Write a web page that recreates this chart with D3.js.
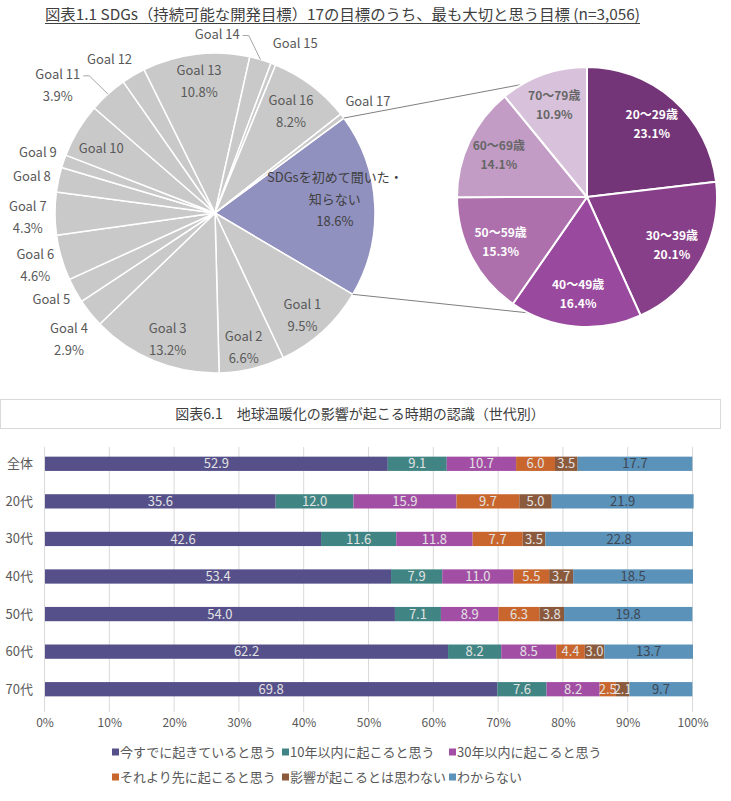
<!DOCTYPE html>
<html><head><meta charset="utf-8">
<script src="https://cdn.jsdelivr.net/npm/d3@7/dist/d3.min.js"></script>
<style>body{margin:0;background:#fff}svg{display:block}</style>
</head><body><svg id="c" width="731" height="801"></svg>
<script>
// ---------- data ----------
const goalLabels = ["SDGsを初めて聞いた・|知らない","Goal 1","Goal 2","Goal 3","Goal 4","Goal 5","Goal 6","Goal 7","Goal 8","Goal 9","Goal 10","Goal 11","Goal 12","Goal 13","Goal 14","Goal 15","Goal 16","Goal 17"];
const goalValues = [18.6, 9.5, 6.6, 13.2, 2.9, 2.5, 4.6, 4.3, 2.5, 1.3, 5.5, 3.9, 2.4, 10.8, 2.2, 0.5, 8.2, 0.5];
const goalShowPct = [true,true,true,true,true,false,true,true,false,false,false,true,false,true,false,false,true,false];
const ageLabels = ["20～29歳","30～39歳","40～49歳","50～59歳","60～69歳","70～79歳"];
const ageValues = [23.1, 20.1, 16.4, 15.3, 14.1, 10.9];

const generations = ["全体","20代","30代","40代","50代","60代","70代"];
const seriesNames = ["今すでに起きていると思う","10年以内に起こると思う","30年以内に起こると思う","それより先に起こると思う","影響が起こるとは思わない","わからない"];
const sNow   = [52.9, 35.6, 42.6, 53.4, 54.0, 62.2, 69.8];
const s10    = [9.1, 12.0, 11.6, 7.9, 7.1, 8.2, 7.6];
const s30    = [10.7, 15.9, 11.8, 11.0, 8.9, 8.5, 8.2];
const sLater = [6.0, 9.7, 7.7, 5.5, 6.3, 4.4, 2.5];
const sNever = [3.5, 5.0, 3.5, 3.7, 3.8, 3.0, 2.1];
const sDK    = [17.7, 21.9, 22.8, 18.5, 19.8, 13.7, 9.7];
const xTicks = [0,10,20,30,40,50,60,70,80,90,100];

// ---------- styles ----------
const FONT = "'Noto Sans CJK JP','Noto Sans',sans-serif";
const NARROW = "'Liberation Sans Narrow','Noto Sans CJK JP',sans-serif";
const TXT = "#595959";
const seriesColors = ["#55508a","#408583","#a34ea5","#c8662d","#8b5a3c","#5b92b9"];
const seriesText = ["#e2e2e2","#e2e2e2","#e2e2e2","#e2e2e2","#e2e2e2","#3e4756"];
const ageColors = ["#733577","#873f89","#9a4a9e","#ad70ad","#c39cc6","#d8c1da"];
const ageText = ["#ffffff","#ffffff","#ffffff","#ffffff","#666666","#666666"];

const svg = d3.select("#c");
const deg = Math.PI/180;

// ---------- title 1 ----------
svg.append("text").attr("x",45).attr("y",20)
  .attr("font-family",FONT).attr("font-size",15).attr("fill","#404040")
  .attr("textLength",595).attr("lengthAdjust","spacingAndGlyphs")
  .text("図表1.1 SDGs（持続可能な開発目標）17の目標のうち、最も大切と思う目標 (n=3,056)");
svg.append("line").attr("x1",45).attr("x2",640).attr("y1",23.5).attr("y2",23.5)
  .attr("stroke","#404040").attr("stroke-width",1);

// ---------- main pie ----------
const cx = 215, cy = 213, R = 160;
const startA = 53.6*deg;
const pie = d3.pie().sort(null).value(d=>d).startAngle(startA).endAngle(startA+2*Math.PI);
const arcs = pie(goalValues);
const arc = d3.arc().innerRadius(0).outerRadius(R);
const g1 = svg.append("g").attr("transform",`translate(${cx},${cy})`);
g1.selectAll("path").data(arcs).enter().append("path")
  .attr("d",arc)
  .attr("fill",(d,i)=> i===0 ? "#9191bf" : "#c9c9c9")
  .attr("stroke","#fff").attr("stroke-width",1.5).attr("stroke-linejoin","round");

const insideIdx = new Set([0,1,2,3,10,13,16]);
const labelK = i => i===0 ? 0.75 : (insideIdx.has(i) ? 0.83 : 1.17);
const labelShift = {0:[0,-7], 1:[-2,4], 2:[-2,5], 3:[3,4], 4:[0,9], 5:[0,-4], 7:[0,4], 8:[0,2],
                    10:[0,4], 11:[-32,12], 12:[-10,7], 14:[-51,1], 15:[12,5], 16:[-4,4], 17:[4,2]};
const leaderIdx = new Set([11,14]);

arcs.forEach((d,i)=>{
  const k = labelK(i);
  const c = d3.arc().innerRadius(R*k).outerRadius(R*k).centroid(d);
  const sh = labelShift[i] || [0,0];
  const x = c[0]+sh[0], y = c[1]+sh[1];
  const lines = goalLabels[i].split("|");
  if (goalShowPct[i]) lines.push(goalValues[i].toFixed(1)+"%");
  const n = lines.length;
  const t = g1.append("text").attr("font-family",FONT).attr("font-size",13)
    .attr("fill", i===0 ? "#404040" : TXT).attr("text-anchor","middle");
  lines.forEach((ln,j)=>{
    t.append("tspan").attr("x",x).attr("y",y + (j-(n-1)/2)*22).attr("dy","0.35em").text(ln);
  });
  if (leaderIdx.has(i)) {
    const bb = t.node().getBBox();
    const lx = bb.x + bb.width + 3;
    const ly = y - (n-1)/2*22 + 1;
    const edge = d3.arc().innerRadius(R).outerRadius(R).centroid(d);
    g1.append("path").attr("d",`M${lx},${ly}H${lx+6}L${edge[0]},${edge[1]}`)
      .attr("fill","none").attr("stroke","#a6a6a6").attr("stroke-width",1);
  }
});

// ---------- secondary pie ----------
const cx2 = 587, cy2 = 197, R2 = 130;
const pie2 = d3.pie().sort(null).value(d=>d);
const arcs2 = pie2(ageValues);
const arc2 = d3.arc().innerRadius(0).outerRadius(R2);

// connector lines
const sdg = arcs[0];
const p1 = [cx + R*Math.sin(sdg.startAngle), cy - R*Math.cos(sdg.startAngle)];
const p2 = [cx + R*Math.sin(sdg.endAngle), cy - R*Math.cos(sdg.endAngle)];
const q1 = [cx2 + R2*Math.sin(330*deg), cy2 - R2*Math.cos(330*deg)];
const q2 = [cx2 + R2*Math.sin(207*deg), cy2 - R2*Math.cos(207*deg)];
svg.append("line").attr("x1",p1[0]).attr("y1",p1[1]).attr("x2",q1[0]).attr("y2",q1[1]).attr("stroke","#7f7f7f").attr("stroke-width",1);
svg.append("line").attr("x1",p2[0]).attr("y1",p2[1]).attr("x2",q2[0]).attr("y2",q2[1]).attr("stroke","#7f7f7f").attr("stroke-width",1);

const g2 = svg.append("g").attr("transform",`translate(${cx2},${cy2})`);
g2.selectAll("path").data(arcs2).enter().append("path")
  .attr("d",arc2).attr("fill",(d,i)=>ageColors[i])
  .attr("stroke","#fff").attr("stroke-width",2).attr("stroke-linejoin","round");
const lab2 = d3.arc().innerRadius(R2*0.75).outerRadius(R2*0.75);
arcs2.forEach((d,i)=>{
  const c = lab2.centroid(d);
  const t = g2.append("text").attr("font-family",FONT).attr("font-size",12).attr("font-weight","bold")
    .attr("fill",ageText[i]).attr("text-anchor","middle");
  t.append("tspan").attr("x",c[0]).attr("y",c[1]-9.5).attr("dy","0.35em").text(ageLabels[i]);
  t.append("tspan").attr("x",c[0]).attr("y",c[1]+9.5).attr("dy","0.35em").text(ageValues[i].toFixed(1)+"%");
});

// ---------- bar chart ----------
svg.append("rect").attr("x",0.5).attr("y",399.5).attr("width",720).attr("height",29)
  .attr("fill","#fff").attr("stroke","#d9d9d9");
svg.append("text").attr("x",360).attr("y",414).attr("dy","0.35em").attr("text-anchor","middle")
  .attr("font-family",FONT).attr("font-size",14).attr("fill","#404040")
  .text("図表6.1　地球温暖化の影響が起こる時期の認識（世代別）");

const x = d3.scaleLinear().domain([0,100]).range([45,693]);
const y = d3.scaleBand().domain(generations).range([445,708]).paddingInner(0.62).paddingOuter(0.31);

svg.append("g").selectAll("line").data(xTicks).enter().append("line")
  .attr("x1",d=>x(d)-0.5).attr("x2",d=>x(d)-0.5).attr("y1",447).attr("y2",712)
  .attr("stroke","#d9d9d9").attr("stroke-width",1);
svg.append("g").selectAll("text").data(xTicks).enter().append("text")
  .attr("x",d=>x(d)).attr("y",723).attr("dy","0.35em").attr("text-anchor","middle")
  .attr("font-family",FONT).attr("font-size",12).attr("fill",TXT).text(d=>d+"%");

svg.append("g").selectAll("text").data(generations).enter().append("text")
  .attr("x",33).attr("y",d=>y(d)+y.bandwidth()/2).attr("dy","0.35em").attr("text-anchor","end")
  .attr("font-family",FONT).attr("font-size",13).attr("fill",TXT).text(d=>d);

const seriesArrays = [sNow, s10, s30, sLater, sNever, sDK];
const rows = generations.map((g,i)=>{ const o={gen:g}; seriesNames.forEach((s,j)=>o[s]=seriesArrays[j][i]); return o; });
const stack = d3.stack().keys(seriesNames)(rows);
stack.forEach((layer,j)=>{
  const gl = svg.append("g");
  gl.selectAll("rect").data(layer).enter().append("rect")
    .attr("x",d=>x(d[0])).attr("width",d=>x(d[1])-x(d[0]))
    .attr("y",d=>y(d.data.gen)).attr("height",y.bandwidth())
    .attr("fill",seriesColors[j]);
  gl.selectAll("text").data(layer).enter().append("text")
    .attr("x",d=>(x(d[0])+x(d[1]))/2).attr("y",d=>y(d.data.gen)+y.bandwidth()/2).attr("dy","0.36em")
    .attr("text-anchor","middle").attr("font-family",NARROW).attr("font-size",13)
    .attr("fill",seriesText[j]).text(d=>(d[1]-d[0]).toFixed(1));
});

// legend
const legX = [112, 282, 449];
const legY = [752, 777];
seriesNames.forEach((s,j)=>{
  const lx = legX[j%3], ly = legY[Math.floor(j/3)];
  svg.append("rect").attr("x",lx).attr("y",ly-3.5).attr("width",7).attr("height",7).attr("fill",seriesColors[j]);
  svg.append("text").attr("x",lx+8).attr("y",ly).attr("dy","0.35em")
    .attr("font-family",FONT).attr("font-size",13).attr("fill",TXT).text(s);
});
</script></body></html>
